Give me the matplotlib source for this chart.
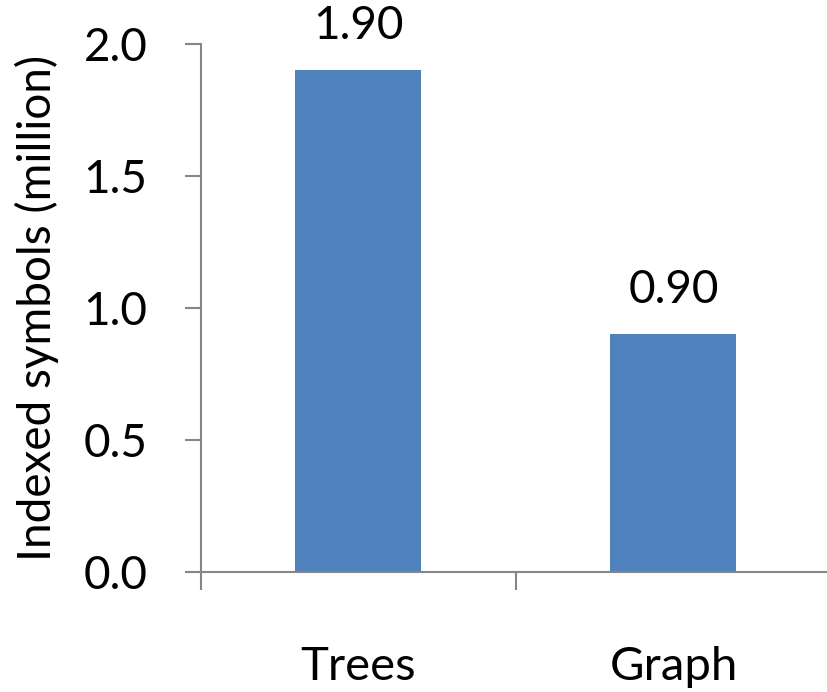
import matplotlib.pyplot as plt
from matplotlib.ticker import FixedLocator

plt.rcParams['font.family'] = ['Lato', 'DejaVu Sans']

categories = ['Trees', 'Graph']
symbols = [1.90, 0.90]
yticks = [0.0, 0.5, 1.0, 1.5, 2.0]

fig = plt.figure(figsize=(8.28, 6.92), dpi=100)
ax = fig.add_axes([201 / 828, 120 / 692, 630 / 828, 528 / 692])

x = range(len(categories))
bars = ax.bar(x, symbols, width=0.4, color='#4F81BD')
ax.bar_label(bars, labels=[f'{v:.2f}' for v in symbols], padding=17, fontsize=33)

ax.set_xlim(-0.5, 1.5)
ax.set_ylim(0, 2.0)
ax.set_yticks(yticks)
ax.set_yticklabels([f'{v:.1f}' for v in yticks])
ax.set_xticks(list(x))
ax.set_xticklabels(categories)
ax.xaxis.set_minor_locator(FixedLocator([-0.5, 0.5, 1.5]))

for side in ['top', 'right']:
    ax.spines[side].set_visible(False)
for side in ['left', 'bottom']:
    ax.spines[side].set_color('#868686')
    ax.spines[side].set_linewidth(1.5)

ax.tick_params(axis='y', length=11.5, width=1.5, color='#868686',
               pad=27, labelsize=33)
ax.tick_params(axis='x', which='major', length=0, pad=53, labelsize=34)
ax.tick_params(axis='x', which='minor', length=13, width=1.5, color='#868686')

ax.set_ylabel('Indexed symbols (million)', fontsize=33, labelpad=18)

fig.savefig('out.png', dpi=100)
